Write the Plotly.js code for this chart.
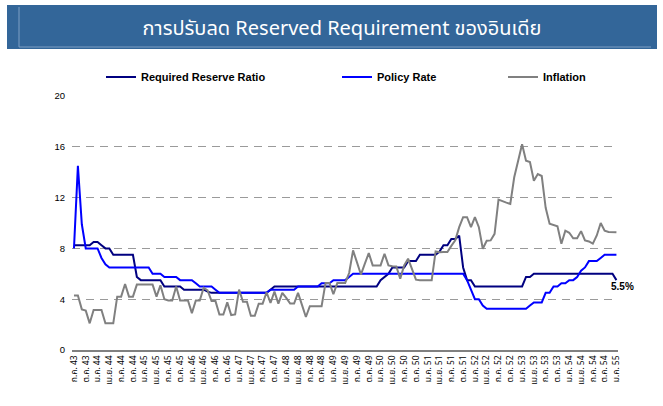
<!DOCTYPE html>
<html><head><meta charset="utf-8">
<script src="https://cdn.plot.ly/plotly-3.0.1.min.js"></script>
<style>html,body{margin:0;padding:0;background:#fff;}#chart{width:663px;height:406px;}</style>
</head><body><div id="chart"></div>
<script>
// Thai month abbreviations, series start ก.ค. 43 (Jul 2000), monthly to ม.ค. 55
const thaiMonths = ["ม.ค.","ก.พ.","มี.ค.","เม.ย.","พ.ค.","มิ.ย.","ก.ค.","ส.ค.","ก.ย.","ต.ค.","พ.ย.","ธ.ค."];
const startMonthIndex = 6;
const startYear = 43;
const monthCount = 139;

const seriesNames = ["Required Reserve Ratio", "Policy Rate", "Inflation"];

const requiredReserveRatio = [
  8.25, 8.25, 8.25, 8.25, 8.25, 8.5, 8.5, 8.25, 8.0, 8.0,
  7.5, 7.5, 7.5, 7.5, 7.5, 7.5, 5.75, 5.5, 5.5, 5.5,
  5.5, 5.5, 5.5, 5.0, 5.0, 5.0, 5.0, 5.0, 4.75, 4.75,
  4.75, 4.75, 4.75, 4.75, 4.6, 4.5, 4.5, 4.5, 4.5, 4.5,
  4.5, 4.5, 4.5, 4.5, 4.5, 4.5, 4.5, 4.5, 4.5, 4.5,
  4.75, 5.0, 5.0, 5.0, 5.0, 5.0, 5.0, 5.0, 5.0, 5.0,
  5.0, 5.0, 5.0, 5.0, 5.0, 5.0, 5.0, 5.0, 5.0, 5.0,
  5.0, 5.0, 5.0, 5.0, 5.0, 5.0, 5.0, 5.0, 5.5, 5.75,
  6.0, 6.5, 6.5, 6.5, 6.5, 7.0, 7.0, 7.0, 7.5, 7.5,
  7.5, 7.5, 7.5, 7.75, 8.25, 8.25, 8.75, 8.75, 9.0, 6.5,
  5.5, 5.5, 5.0, 5.0, 5.0, 5.0, 5.0, 5.0, 5.0, 5.0,
  5.0, 5.0, 5.0, 5.0, 5.0, 5.75, 5.75, 6.0, 6.0, 6.0,
  6.0, 6.0, 6.0, 6.0, 6.0, 6.0, 6.0, 6.0, 6.0, 6.0,
  6.0, 6.0, 6.0, 6.0, 6.0, 6.0, 6.0, 6.0, 5.5
];

const policyRate = [
  8.0, 14.5, 9.9, 8.0, 8.0, 8.0, 8.0, 7.25, 6.75, 6.5,
  6.5, 6.5, 6.5, 6.5, 6.5, 6.5, 6.5, 6.5, 6.5, 6.5,
  6.0, 6.0, 6.0, 5.75, 5.75, 5.75, 5.75, 5.5, 5.5, 5.5,
  5.5, 5.25, 5.0, 5.0, 5.0, 5.0, 4.75, 4.5, 4.5, 4.5,
  4.5, 4.5, 4.5, 4.5, 4.5, 4.5, 4.5, 4.5, 4.5, 4.5,
  4.75, 4.75, 4.75, 4.75, 4.75, 4.75, 4.75, 5.0, 5.0, 5.0,
  5.0, 5.0, 5.0, 5.25, 5.25, 5.25, 5.5, 5.5, 5.5, 5.5,
  5.75, 6.0, 6.0, 6.0, 6.0, 6.0, 6.0, 6.0, 6.0, 6.0,
  6.0, 6.0, 6.0, 6.0, 6.0, 6.0, 6.0, 6.0, 6.0, 6.0,
  6.0, 6.0, 6.0, 6.0, 6.0, 6.0, 6.0, 6.0, 6.0, 6.0,
  5.5, 4.75, 4.0, 4.0, 3.5, 3.25, 3.25, 3.25, 3.25, 3.25,
  3.25, 3.25, 3.25, 3.25, 3.25, 3.25, 3.5, 3.75, 3.75, 3.75,
  4.5, 4.5, 5.0, 5.0, 5.25, 5.25, 5.5, 5.5, 5.75, 6.25,
  6.5, 7.0, 7.0, 7.0, 7.25, 7.5, 7.5, 7.5, 7.5
];

const inflation = [
  4.3, 4.3, 3.2, 3.1, 2.1, 3.15, 3.15, 3.15, 2.1, 2.1,
  2.1, 4.2, 4.2, 5.2, 4.2, 4.2, 5.15, 5.15, 5.15, 5.15,
  5.15, 4.2, 5.1, 4.0, 3.9, 3.9, 5.0, 3.9, 3.9, 3.9,
  2.9, 3.9, 3.9, 4.9, 4.7, 3.85, 3.85, 2.8, 2.8, 3.75,
  2.75, 2.8, 4.75, 3.8, 3.8, 2.7, 2.7, 3.65, 3.65, 4.55,
  3.7, 4.6, 3.65, 4.5, 4.1, 3.66, 3.66, 4.5, 3.55, 2.6,
  3.45, 3.45, 3.45, 3.45, 5.28, 5.28, 4.4, 5.28, 5.28, 5.28,
  6.06, 7.84, 6.9, 5.94, 6.8, 7.63, 6.66, 6.66, 6.66, 7.58,
  6.66, 6.6, 6.58, 5.62, 6.66, 7.19, 6.4, 5.54, 5.5, 5.5,
  5.5, 5.49, 7.76, 7.7, 7.71, 7.71, 8.2, 8.63, 9.67, 10.46,
  10.46, 9.67, 10.46, 9.67, 7.97, 8.6, 8.63, 9.15, 11.84, 11.7,
  11.6, 11.5, 13.6, 14.9, 16.2, 14.9, 14.8, 13.33, 13.85, 13.7,
  11.2, 9.94, 9.85, 9.75, 8.37, 9.4, 9.23, 8.8, 8.8, 9.36,
  8.63, 8.55, 8.37, 9.02, 10.0, 9.4, 9.3, 9.3, 9.28
];

// category labels, one per month
const months = [];
for (let k = 0; k < monthCount; k++) {
  const m = (startMonthIndex + k) % 12;
  const y = startYear + Math.floor((startMonthIndex + k) / 12);
  months.push(thaiMonths[m] + " " + y);
}
const tickLabels = months.filter((_, k) => k % 3 === 0);

// layout geometry (pixels)
const W = 663, H = 406;
const M = {l: 72, r: 45, t: 96, b: 56};
const pw = W - M.l - M.r, ph = H - M.t - M.b;
const px2x = px => (px - M.l) / pw;
const py2y = py => (H - M.b - py) / ph;

const thaiFont = "Noto Sans, Noto Sans Thai, Tahoma, sans-serif";
const legendFont = {family: "Liberation Sans, Arial, sans-serif", size: 11, color: "#000", weight: "bold"};

const colors = ["#000080", "#0000FF", "#808080"];
const values = [requiredReserveRatio, policyRate, inflation];
const legendIds = ["legend", "legend2", "legend3"];

const traces = values.map((v, i) => ({
  type: "scatter", mode: "lines",
  x: months, y: v, name: seriesNames[i],
  line: {color: colors[i], width: 2},
  legend: legendIds[i],
  hoverinfo: "skip"
}));

function legendAt(pxText) {
  return {
    x: px2x(pxText - 40), y: py2y(77), xanchor: "left", yanchor: "middle",
    xref: "paper", yref: "paper",
    orientation: "h", bgcolor: "rgba(0,0,0,0)", borderwidth: 0,
    font: legendFont
  };
}

const lastIdx = requiredReserveRatio.length - 1;
const annotations = [{
  xref: "x", yref: "y", x: months[lastIdx], y: requiredReserveRatio[lastIdx],
  text: requiredReserveRatio[lastIdx] + "%", showarrow: false,
  xanchor: "center", yanchor: "middle", xshift: 6, yshift: -6,
  font: {family: "Liberation Sans, Arial, sans-serif", size: 10, color: "#000", weight: "bold"}
}];

const layout = {
  width: W, height: H,
  margin: M,
  paper_bgcolor: "#fff", plot_bgcolor: "#fff",
  showlegend: true,
  title: {
    text: "การปรับลด Reserved Requirement ของอินเดีย",
    font: {family: thaiFont, size: 20, color: "#fff"},
    x: 342 / W, xref: "container", xanchor: "center",
    y: 1 - 28 / H, yref: "container", yanchor: "middle"
  },
  legend: legendAt(141),
  legend2: legendAt(377),
  legend3: legendAt(543),
  xaxis: {
    type: "category", range: [-0.5, 138.4],
    tickmode: "array", tickvals: tickLabels, ticktext: tickLabels,
    tickangle: -90, tickfont: {family: thaiFont, size: 8.5, color: "#000"},
    showgrid: false, zeroline: false,
    showline: true, linecolor: "#808080", linewidth: 2,
    ticks: "", fixedrange: true
  },
  yaxis: {
    range: [0, 20], tick0: 0, dtick: 4,
    showgrid: true, gridcolor: "#9a9a9a", gridwidth: 1, griddash: "8px,6px",
    zeroline: false, showline: false, ticks: "",
    ticklabelstandoff: 6,
    tickfont: {family: "Liberation Sans, Arial, sans-serif", size: 9.5, color: "#000"},
    fixedrange: true
  },
  shapes: [
    {type: "rect", xref: "paper", yref: "paper", layer: "below",
     x0: px2x(7), x1: px2x(657), y0: py2y(49), y1: py2y(5),
     fillcolor: "#336699", line: {width: 0}},
    {type: "line", xref: "paper", yref: "paper",
     x0: px2x(19), x1: px2x(19), y0: py2y(47), y1: py2y(7),
     line: {color: "#7f9fc4", width: 1}},
    {type: "line", xref: "paper", yref: "paper",
     x0: px2x(19), x1: px2x(651), y0: py2y(47), y1: py2y(47),
     line: {color: "#7f9fc4", width: 1}}
  ],
  annotations: annotations
};

Plotly.newPlot("chart", traces, layout, {displayModeBar: false, staticPlot: true});
</script>
</body></html>
